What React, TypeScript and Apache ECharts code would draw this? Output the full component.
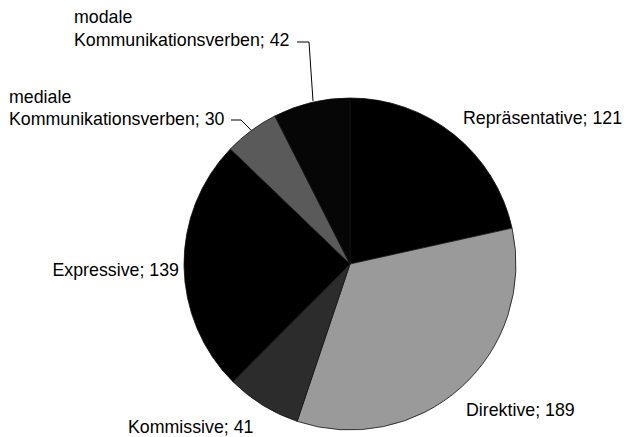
import React, { useEffect, useRef } from "react";
import * as echarts from "echarts";

const categories = [
  "Repräsentative",
  "Direktive",
  "Kommissive",
  "Expressive",
  "mediale\nKommunikationsverben",
  "modale\nKommunikationsverben",
];
const values = [121, 189, 41, 139, 30, 42];
const colors = ["#000000", "#9a9a9a", "#2c2c2c", "#000000", "#5a5a5a", "#060606"];

// label placement (pixels) per slice
const labelPos = [
  { x: 463, y: 118, align: "left", lh: 22, line: null },
  { x: 466, y: 410, align: "left", lh: 22, line: null },
  { x: 128, y: 427, align: "left", lh: 22, line: null },
  { x: 179, y: 270, align: "right", lh: 22, line: null },
  { x: 9, y: 107.5, align: "left", lh: 22, line: [[231, 120], [241, 120], [252, 131]] },
  { x: 74, y: 28, align: "left", lh: 23, line: [[297, 42], [309, 42], [313, 101]] },
];

export default function App() {
  const ref = useRef<HTMLDivElement>(null);
  useEffect(() => {
    const chart = echarts.init(ref.current!, null, { renderer: "svg" });
    chart.setOption({
      animation: false,
      backgroundColor: "#ffffff",
      series: [
        {
          type: "pie",
          center: [350, 264],
          radius: 166,
          startAngle: 90,
          clockwise: true,
          avoidLabelOverlap: false,
          itemStyle: { borderColor: "#111", borderWidth: 0.8 },
          label: {
            show: true,
            position: "outside",
            formatter: "{b}; {c}",
            color: "#000",
            fontFamily: "Liberation Sans, Arial, sans-serif",
            fontSize: 17.8,
          },
          labelLine: { show: false, lineStyle: { color: "#000", width: 1 } },
          labelLayout: (params: any) => {
            const p = labelPos[params.dataIndex];
            const r: any = {
              x: p.x,
              y: p.y,
              align: p.align,
              verticalAlign: "middle",
            };
            if (p.line) r.labelLinePoints = p.line;
            return r;
          },
          data: categories.map((name, i) => ({
            name,
            value: values[i],
            itemStyle: { color: colors[i] },
            label: { lineHeight: labelPos[i].lh },
            labelLine: { show: !!labelPos[i].line },
          })),
        },
      ],
    });
    return () => chart.dispose();
  }, []);
  return (
    <div
      ref={ref}
      style={{ position: "fixed", left: 0, top: 0, width: 626, height: 437, background: "#fff" }}
    />
  );
}
